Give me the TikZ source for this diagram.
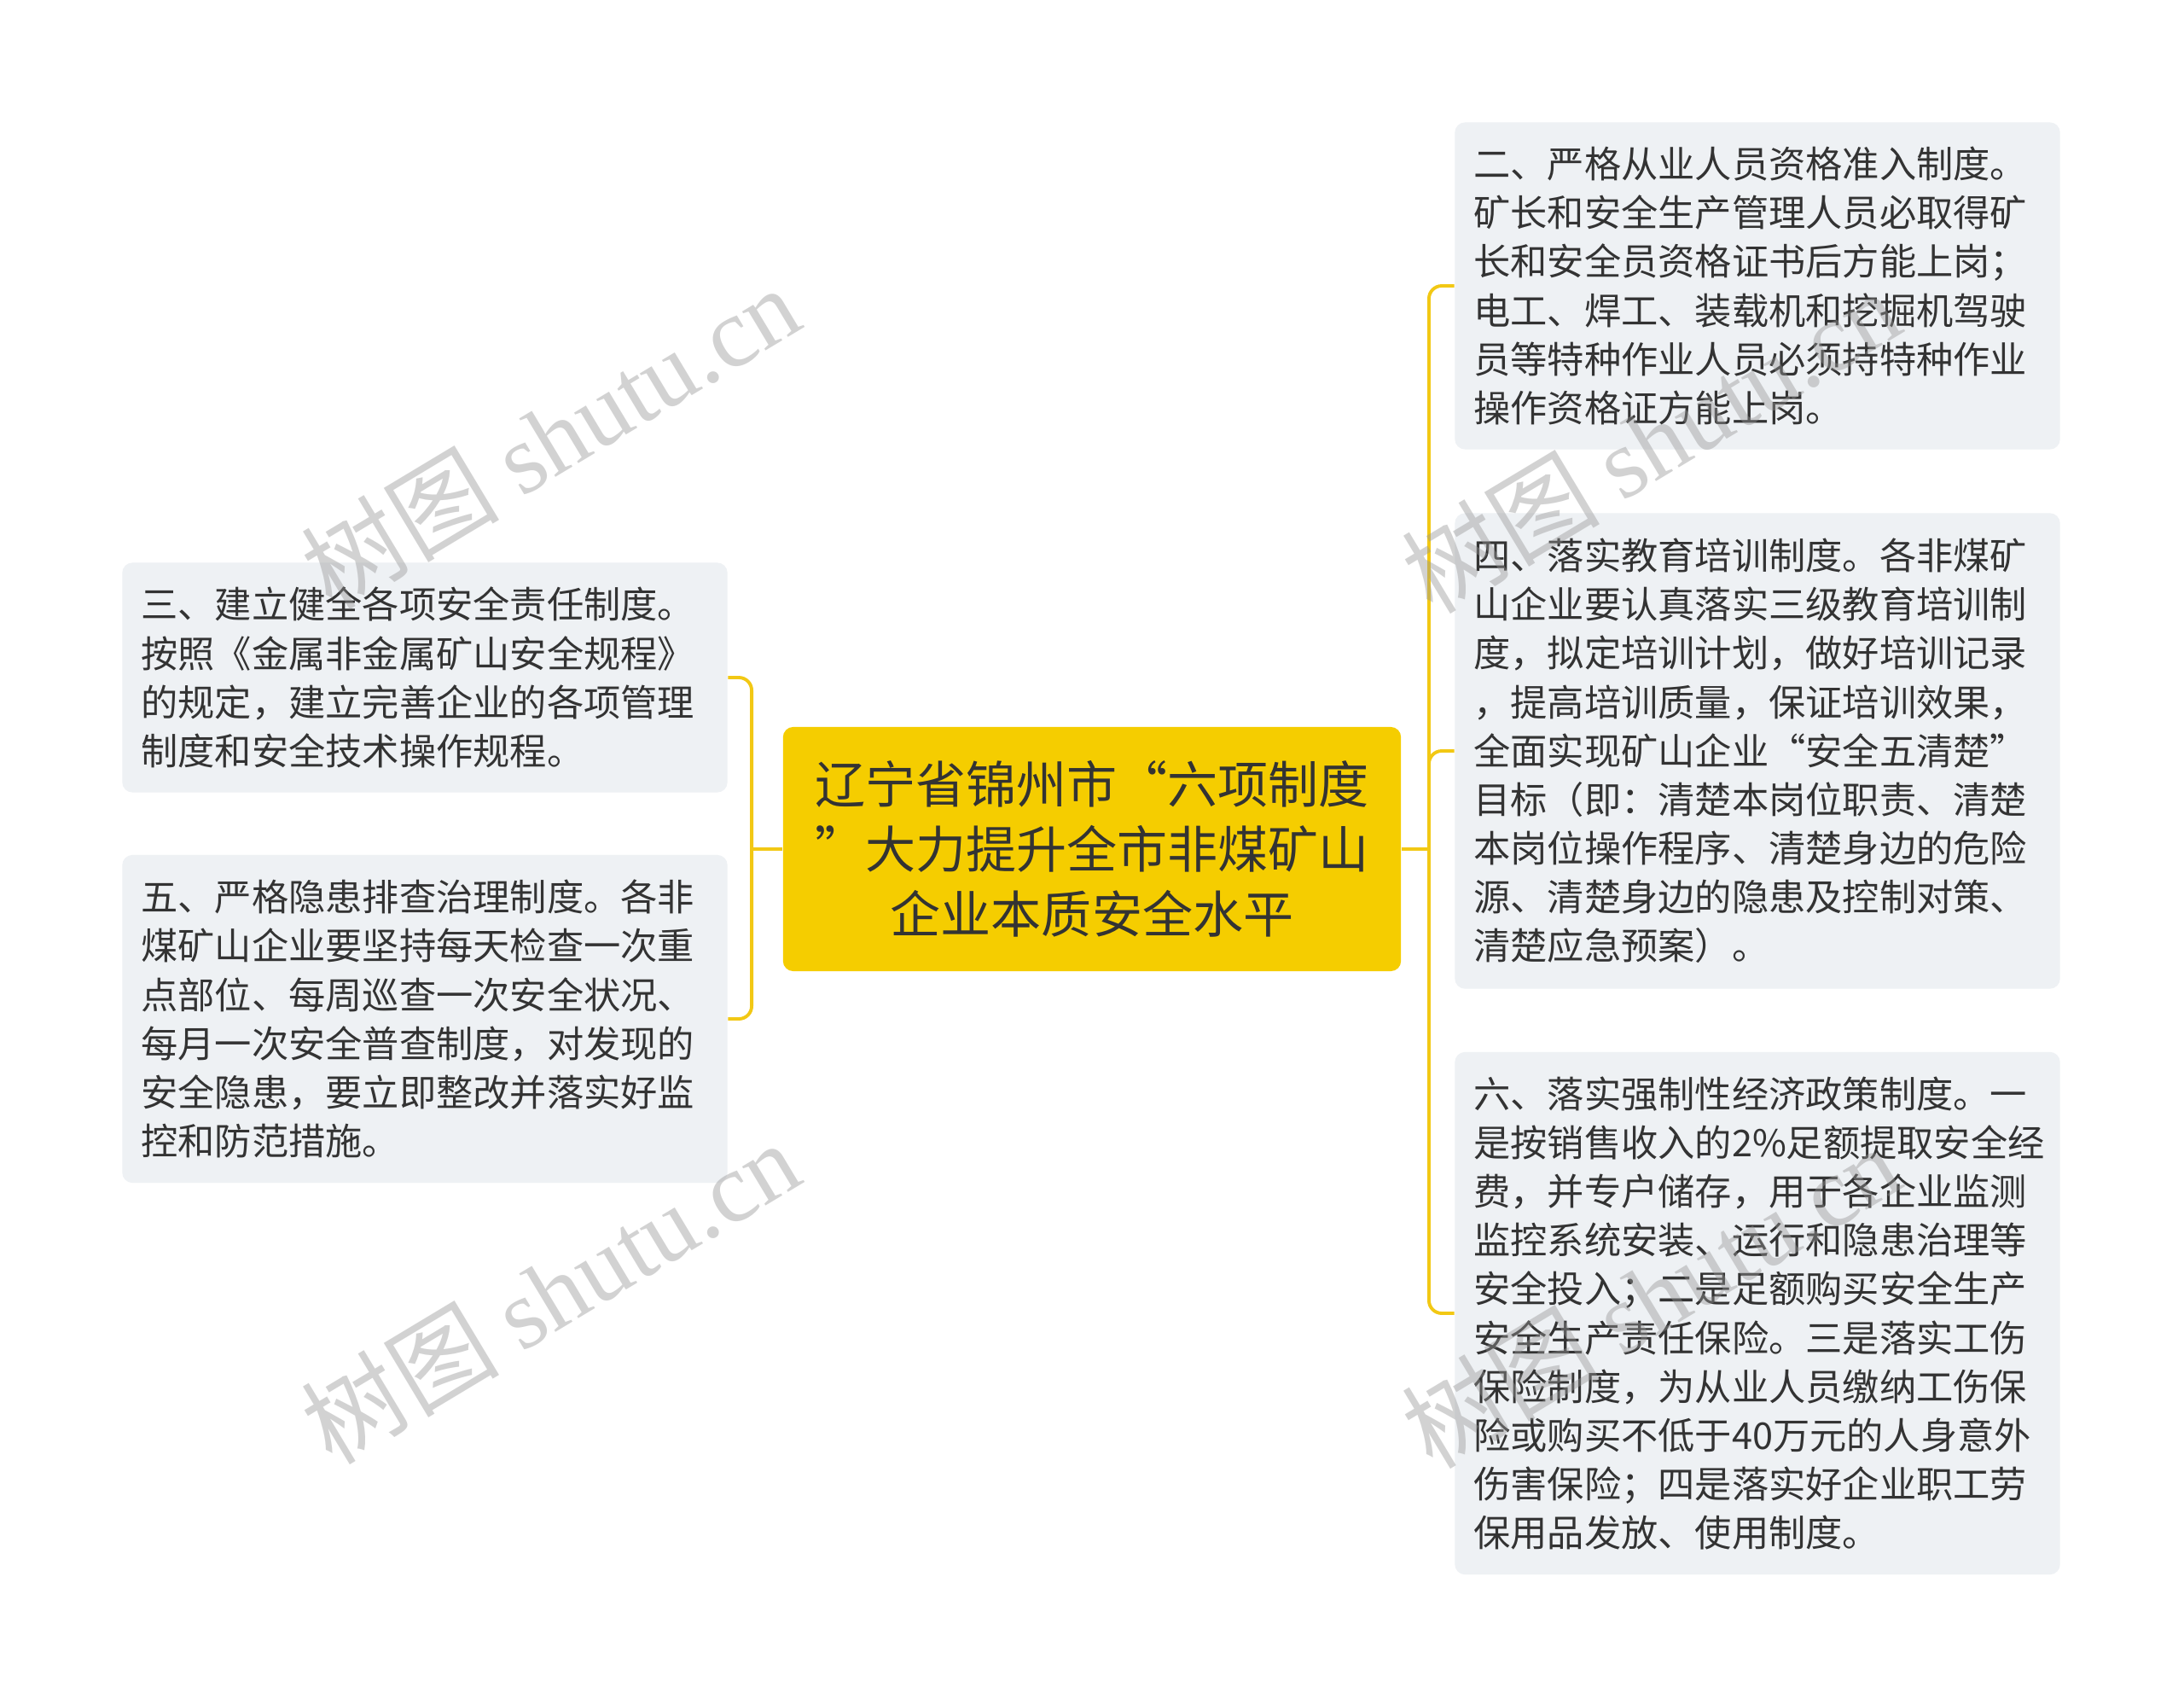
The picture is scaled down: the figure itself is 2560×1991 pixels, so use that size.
\documentclass[tikz,border=0pt]{standalone}
\usepackage{fontspec}
\setmainfont{Noto Sans CJK SC}
\newfontfamily\wmlatin{Liberation Serif}
\usetikzlibrary{calc,positioning}
\definecolor{rootyellow}{RGB}{245,205,0}
\definecolor{linkyellow}{RGB}{242,200,20}
\definecolor{leafgray}{RGB}{238,241,244}
\definecolor{inkgray}{RGB}{51,51,51}
\definecolor{wmgray}{RGB}{150,150,150}

\begin{document}
\begin{tikzpicture}[x=0.01cm, y=-0.01cm,
  root/.style={fill=rootyellow, rounded corners=1.2mm, minimum width=72.4mm,
    minimum height=28.6mm, text width=70mm, inner xsep=1.2mm, align=center, text=inkgray,
    font=\fontsize{16.8pt}{21.6pt}\selectfont},
  leaf/.style={fill=leafgray, rounded corners=1.2mm, text width=66.5mm,
    inner xsep=2.2mm, inner ysep=0pt, align=left, text=inkgray,
    font=\fontsize{12.3pt}{16.25pt}\selectfont},
  link/.style={draw=linkyellow, line width=1.1pt, rounded corners=1.5mm},
  wmtext/.style={text=wmgray, text opacity=0.42, rotate=31,
    font=\fontsize{33pt}{33pt}\selectfont}]
  \fill[white] (0,0) rectangle (2560,1991);
  \useasboundingbox (0,0) rectangle (2560,1991);

  % centre topic
  \node [root] (hub) at (1280,995) {辽宁省锦州市“六项制度\\”大力提升全市非煤矿山\\企业本质安全水平};

  % right branches
  \node [leaf, minimum height=38.3mm] (s2) at (2060,335) {二、严格从业人员资格准入制度。\\矿长和安全生产管理人员必取得矿\\长和安全员资格证书后方能上岗；\\电工、焊工、装载机和挖掘机驾驶\\员等特种作业人员必须持特种作业\\操作资格证方能上岗。};
  \node [leaf, minimum height=55.7mm] (s4) at (2060,880) {四、落实教育培训制度。各非煤矿\\山企业要认真落实三级教育培训制\\度，拟定培训计划，做好培训记录\\，提高培训质量，保证培训效果，\\全面实现矿山企业“安全五清楚”\\目标（即：清楚本岗位职责、清楚\\本岗位操作程序、清楚身边的危险\\源、清楚身边的隐患及控制对策、\\清楚应急预案）。};
  \node [leaf, minimum height=61.2mm] (s6) at (2060,1539) {六、落实强制性经济政策制度。一\\是按销售收入的2\%足额提取安全经\\费，并专户储存，用于各企业监测\\监控系统安装、运行和隐患治理等\\安全投入；二是足额购买安全生产\\安全生产责任保险。三是落实工伤\\保险制度，为从业人员缴纳工伤保\\险或购买不低于40万元的人身意外\\伤害保险；四是落实好企业职工劳\\保用品发放、使用制度。};

  % left branches
  \node [leaf, minimum height=26.9mm] (s3) at (498,794) {三、建立健全各项安全责任制度。\\按照《金属非金属矿山安全规程》\\的规定，建立完善企业的各项管理\\制度和安全技术操作规程。};
  \node [leaf, minimum height=38.4mm] (s5) at (498,1194) {五、严格隐患排查治理制度。各非\\煤矿山企业要坚持每天检查一次重\\点部位、每周巡查一次安全状况、\\每月一次安全普查制度，对发现的\\安全隐患，要立即整改并落实好监\\控和防范措施。};

  \coordinate [right=3.2mm of hub] (rj);
  \coordinate [left=3.6mm of hub] (lj);
  \draw [link] (hub.east) -- (rj);
  \draw [link] (hub.west) -- (lj);
  \foreach \s in {s2,s4,s6}
    \draw [link] (rj) |- (\s.west);
  \foreach \s in {s3,s5}
    \draw [link] (lj) |- (\s.east);

  % watermarks
  \foreach \x/\y/\n in {645/512/1, 645/1514/2, 1935/517/3, 1935/1519/4}
    \node [wmtext] (wm\n) at (\x,\y) {树图 {\wmlatin shutu.cn}};
\end{tikzpicture}
\end{document}
